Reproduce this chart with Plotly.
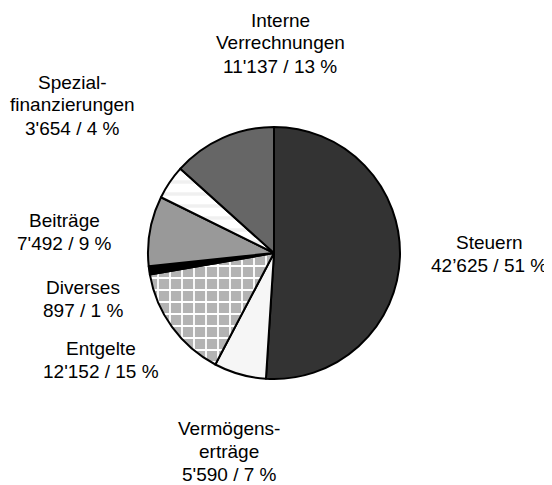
import plotly.graph_objects as go

categories = ["Steuern", "Vermögens-<br>erträge", "Entgelte", "Diverses", "Beiträge",
              "Spezial-<br>finanzierungen", "Interne<br>Verrechnungen"]
values = [42625, 5590, 12152, 897, 7492, 3654, 11137]
thousand_seps = ["’", "'", "'", "'", "'", "'", "'"]

colors = ["#333333", "#f6f6f6", "#b3b3b3", "#000000", "#999999", "#ffffff", "#666666"]
pattern_shapes = ["", "", "+", "", "", "-", ""]
pattern_fg = ["#333333", "#f6f6f6", "#ffffff", "#000000", "#999999", "#f0f0f0", "#666666"]

# page body has an 8px margin; positions below are in figure pixels
OFF = 8
# label first-line centers in pixels (x, y from top) - layout only
label_pos = [(489, 242), (229, 428), (101, 348), (83, 287), (64, 220), (72, 82), (280, 20)]
LINE_H = 23

W, H = 552, 485
total = sum(values)

fig = go.Figure()
fig.add_trace(go.Pie(
    values=values,
    labels=[c.replace("<br>", " ") for c in categories],
    sort=False,
    direction="clockwise",
    rotation=0,
    textinfo="none",
    hoverinfo="label+value+percent",
    marker=dict(
        colors=colors,
        line=dict(color="#000000", width=2),
        pattern=dict(shape=pattern_shapes, fgcolor=pattern_fg, bgcolor=colors,
                     size=12, solidity=0.28, fillmode="replace"),
    ),
    domain=dict(x=[(148 - OFF) / W, (400 - OFF) / W],
                y=[(H - (379 - OFF)) / H, (H - (127 - OFF)) / H]),
    showlegend=False,
))

annotations = []
for cat, v, sep, (px, py) in zip(categories, values, thousand_seps, label_pos):
    num = f"{v:,}".replace(",", sep)
    pct = round(100 * v / total)
    lines = cat.split("<br>") + [f"{num} / {pct} %"]
    for i, line in enumerate(lines):
        yy = py + i * LINE_H - OFF
        annotations.append(dict(
            text=line,
            x=(px - OFF) / W, y=1 - yy / H, xref="paper", yref="paper",
            xanchor="center", yanchor="middle", showarrow=False, align="center",
            font=dict(family="Liberation Sans, Arial, sans-serif", size=19, color="#000000"),
        ))

fig.update_layout(
    width=W, height=H,
    margin=dict(l=0, r=0, t=0, b=0),
    paper_bgcolor="white", plot_bgcolor="white",
    annotations=annotations,
)

fig.write_html("out.html")
